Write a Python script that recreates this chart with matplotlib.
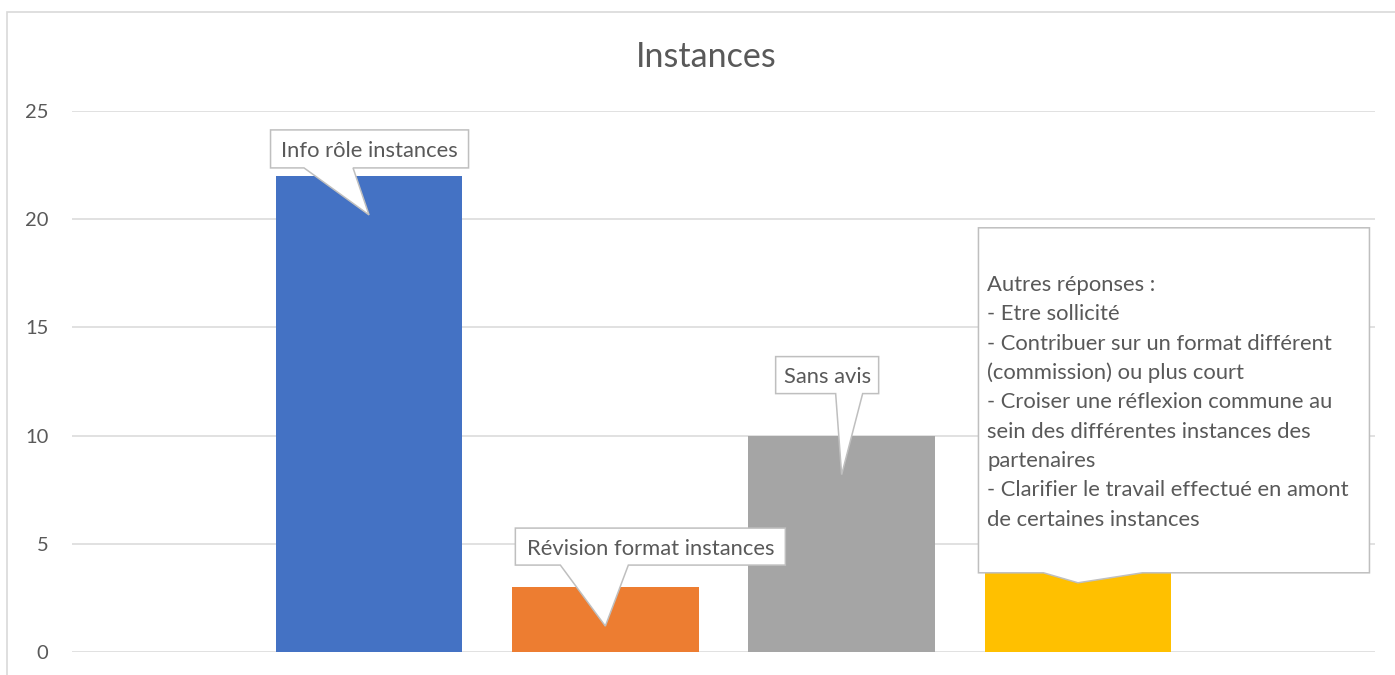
import matplotlib.pyplot as plt
import matplotlib.transforms as mtransforms
from matplotlib.patches import Polygon, Rectangle

# data
categories = ["Info rôle instances", "Révision format instances", "Sans avis", "Autres"]
values = [22, 3, 10, 5]
colors = ["#4472C4", "#ED7D31", "#A5A5A5", "#FFC000"]
callout_texts = [
    "Info rôle instances",
    "Révision format instances",
    "Sans avis",
    "Autres réponses :\n"
    "- Etre sollicité\n"
    "- Contribuer sur un format différent\n"
    "(commission) ou plus court\n"
    "- Croiser une réflexion commune au\n"
    "sein des différentes instances des\n"
    "partenaires\n"
    "- Clarifier le travail effectué en amont\n"
    "de certaines instances",
]
yticks = [0, 5, 10, 15, 20, 25]

# callout geometry, pixels relative to bar top centre (x right, y down):
# box left, right, top, bottom, pointer base left, right
callout_geom = [
    (-98.5, 99.5, -46, -8, -65, -16),
    (-90, 180, -59, -22, -45, 23),
    (-66, 37, -79, -42, -6, 21),
    (-99.5, 291.5, -316, 29, -34.5, 64.5),
]
tip_dy = 39

W, H = 1395, 675
TXT = "#595959"
FONT = "Lato"
FS = 15.8

fig = plt.figure(figsize=(W / 100, H / 100), dpi=100)
fig.patch.set_facecolor("white")

# chart area border
fig.add_artist(Rectangle((7 / W, -0.05), 1.1, 1 - 12 / H + 0.05,
                         transform=fig.transFigure, fill=False,
                         edgecolor="#D9D9D9", lw=1.2))

ax = fig.add_axes([72 / W, 1 - 652 / H, (1375 - 72) / W, (652 - 111) / H])
x = list(range(len(values)))
ax.bar(x, values, width=0.79, color=colors, zorder=2)

ax.set_xlim(-1.257, 4.257)
ax.set_ylim(0, 25)
ax.set_yticks(yticks)
ax.set_xticks([])
ax.yaxis.grid(True, color="#D9D9D9", lw=1.1)
ax.set_axisbelow(True)
for s in ax.spines.values():
    s.set_visible(False)
ax.tick_params(axis="y", length=0, pad=17, labelcolor=TXT)
for lab in ax.get_yticklabels():
    lab.set_fontfamily(FONT)
    lab.set_fontsize(14.5)

fig.text(706 / W, 1 - 57 / H, "Instances", ha="center", va="center",
         fontsize=24.6, color=TXT, family=FONT)

# callouts
ident = mtransforms.IdentityTransform()
for xi, v, txt, g in zip(x, values, callout_texts, callout_geom):
    ax0, ay0 = ax.transData.transform((xi, v))
    L, R, T, B, p1, p2 = g

    def pt(dx, dy):
        return (ax0 + dx, ay0 - dy)

    verts = [pt(L, T), pt(R, T), pt(R, B), pt(p2, B), pt(0, tip_dy),
             pt(p1, B), pt(L, B)]
    fig.add_artist(Polygon(verts, closed=True, transform=ident,
                           facecolor="white", edgecolor="#BFBFBF",
                           lw=1.1, zorder=5))
    lines = txt.split("\n")
    cy = (T + B) / 2 + 2
    if len(lines) == 1:
        cx, cyy = pt((L + R) / 2, cy)
        fig.text(cx, cyy, txt, transform=ident, ha="center", va="center",
                 fontsize=FS, color=TXT, family=FONT, zorder=6)
    else:
        step = 29.3
        for i, line in enumerate(lines):
            dy = cy + (i - (len(lines) - 1) / 2) * step
            tx, ty = pt(L + 9, dy)
            fig.text(tx, ty, line, transform=ident, ha="left", va="center",
                     fontsize=FS, color=TXT, family=FONT, zorder=6)

fig.savefig("out.png", dpi=100)
